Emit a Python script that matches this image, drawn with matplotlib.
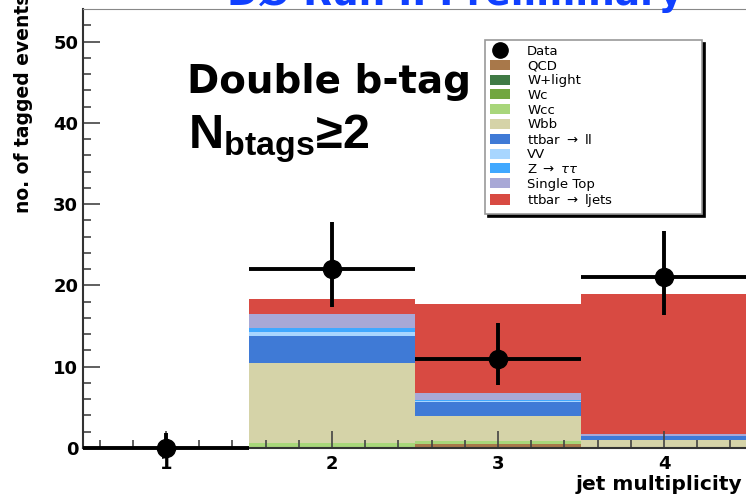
import matplotlib
matplotlib.use('Agg')
import matplotlib.pyplot as plt
from matplotlib.patches import Patch
from matplotlib.lines import Line2D
import numpy as np

# jet multiplicity bins
jets = [1, 2, 3, 4]
jet_labels = ['1', '2', '3', '4']

# stacked backgrounds, bottom to top (events per bin)
qcd = [0.0, 0.0, 0.45, 0.02]
w_light = [0.0, 0.05, 0.05, 0.0]
wc = [0.0, 0.1, 0.05, 0.0]
wcc = [0.0, 0.45, 0.25, 0.05]
wbb = [0.0, 9.8, 3.1, 0.95]
tt_ll = [0.0, 3.4, 1.8, 0.4]
vv = [0.0, 0.5, 0.1, 0.05]
ztautau = [0.0, 0.4, 0.1, 0.05]
single_top = [0.0, 1.8, 0.9, 0.15]
tt_ljets = [0.0, 1.8, 10.9, 17.25]

# data with asymmetric errors
data = [0, 22, 11, 21]
data_err_lo = [0.0, 4.7, 3.3, 4.6]
data_err_hi = [1.8, 5.8, 4.4, 5.7]

samples = [
    ('QCD', qcd, '#a8784a'),
    ('W+light', w_light, '#3f7a45'),
    ('Wc', wc, '#72a640'),
    ('Wcc', wcc, '#a8d67a'),
    ('Wbb', wbb, '#d5d3a8'),
    ('ttbar $\\rightarrow$ ll', tt_ll, '#3f7ad6'),
    ('VV', vv, '#a8d6ff'),
    ('Z $\\rightarrow$ $\\tau\\tau$', ztautau, '#40a8ff'),
    ('Single Top', single_top, '#a8a8d6'),
    ('ttbar $\\rightarrow$ ljets', tt_ljets, '#d84a42'),
]

fig = plt.figure(figsize=(7.46, 4.96), dpi=100)
ax = fig.add_axes([83 / 746, 48 / 496, 664 / 746, 439 / 496])

bottom = np.zeros(len(jets))
for name, vals, col in samples:
    ax.bar(jets, vals, width=1.0, bottom=bottom, color=col, edgecolor='none', zorder=1)
    bottom += np.array(vals)

ax.errorbar(jets, data, xerr=0.5, yerr=[data_err_lo, data_err_hi], fmt='o',
            color='black', ms=13, elinewidth=2.8, capsize=0, zorder=5, clip_on=False)

ax.set_xlim(0.5, 4.5)
ax.set_ylim(0, 54)
ax.set_xticks(jets)
ax.set_xticklabels(jet_labels)
ax.set_xticks(np.arange(0.6, 4.5, 0.2), minor=True)
ax.set_yticks(np.arange(0, 51, 10))
ax.set_yticks(np.arange(0, 54, 2), minor=True)
ax.tick_params(which='both', direction='in', colors='#444444', labelcolor='black',
               labelsize=13, width=1.2)
ax.tick_params(which='major', length=12)
ax.tick_params(which='minor', length=6)
ax.tick_params(axis='x', pad=5)
for lab in ax.get_xticklabels() + ax.get_yticklabels():
    lab.set_fontweight('bold')
for s in ['left', 'bottom']:
    ax.spines[s].set_color('#333333')
    ax.spines[s].set_linewidth(1.5)
ax.spines['top'].set_color('#888888')
ax.spines['right'].set_visible(False)

ax.set_ylabel('no. of tagged events', loc='top', fontsize=13.5, fontweight='bold')
ax.yaxis.set_label_coords(-0.075, 1.035)
ax.set_xlabel('jet multiplicity', loc='right', fontsize=14.5, fontweight='bold')
ax.xaxis.set_label_coords(0.993, -0.062)

handles = [Line2D([], [], marker='o', color='black', ls='none', ms=11, label='Data')]
for name, vals, col in samples:
    handles.append(Patch(facecolor=col, edgecolor='none', label=name))
leg = ax.legend(handles=handles, loc='upper left',
                bbox_to_anchor=(485 / 746, 1 - 213 / 496, 217 / 746, 173 / 496),
                bbox_transform=fig.transFigure, mode='expand', fontsize=9.5, frameon=True,
                fancybox=False, shadow={'color': 'black', 'alpha': 1}, labelspacing=0.12,
                handlelength=1.5, handleheight=0.8, handletextpad=1.3, borderpad=0.4,
                borderaxespad=0)
leg.get_frame().set_edgecolor('#999999')
leg.get_frame().set_linewidth(1.2)
leg.set_zorder(10)

fig.text(455 / 746, 1 - 5 / 496, 'DØ Run II Preliminary', color='#1040ff', fontsize=27,
         fontweight='bold', ha='center', va='baseline')
fig.text(187 / 746, 1 - 93 / 496, 'Double b-tag', fontsize=28, fontweight='bold',
         va='baseline')
plt.rcParams['mathtext.fontset'] = 'custom'
plt.rcParams['mathtext.bf'] = 'Liberation Sans:bold'
plt.rcParams['mathtext.rm'] = 'Liberation Sans:bold'
fig.text(188 / 746, 1 - 148 / 496, '$\\mathbf{N_{btags}}$≥2', fontsize=35,
         family='Liberation Sans', fontweight='bold', va='baseline')

fig.savefig('out.png', dpi=100)
